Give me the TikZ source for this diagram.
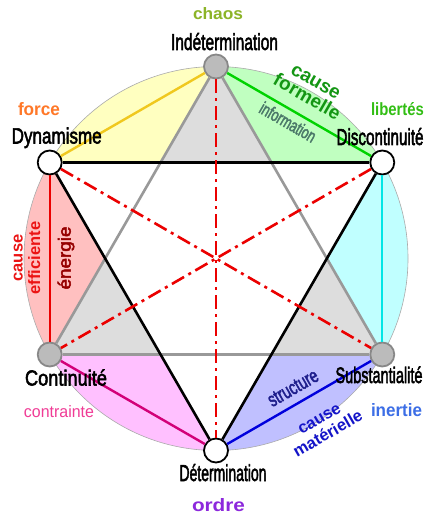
\documentclass[tikz,border=0pt]{standalone}
\usepackage{fontspec}
\setmainfont{Liberation Sans}
\newfontfamily\heavy[FakeBold=2.6]{Liberation Sans}
\usepackage{graphicx}
\definecolor{fyel}{RGB}{255,255,192}
\definecolor{lyel}{RGB}{240,200,30}
\definecolor{fgre}{RGB}{192,255,192}
\definecolor{lgre}{RGB}{0,210,0}
\definecolor{fcya}{RGB}{192,255,255}
\definecolor{lcya}{RGB}{0,230,230}
\definecolor{fblu}{RGB}{192,192,255}
\definecolor{lblu}{RGB}{0,0,220}
\definecolor{fmag}{RGB}{255,192,255}
\definecolor{lmag}{RGB}{210,0,120}
\definecolor{fred}{RGB}{255,192,192}
\definecolor{lred}{RGB}{235,0,0}
\definecolor{fgray}{RGB}{221,221,221}
\definecolor{tgray}{RGB}{153,153,153}
\definecolor{ngray}{RGB}{187,187,187}
\definecolor{ndgray}{RGB}{136,136,136}
\definecolor{ccirc}{RGB}{170,170,170}
\definecolor{cchaos}{RGB}{140,180,40}
\definecolor{cforce}{RGB}{255,120,40}
\definecolor{clib}{RGB}{50,190,20}
\definecolor{cform}{RGB}{20,150,20}
\definecolor{cinfo}{RGB}{75,120,105}
\definecolor{ceff}{RGB}{235,20,20}
\definecolor{cener}{RGB}{150,0,0}
\definecolor{ccont}{RGB}{240,60,150}
\definecolor{cstru}{RGB}{30,30,140}
\definecolor{cmat}{RGB}{20,20,200}
\definecolor{ciner}{RGB}{60,110,230}
\definecolor{cordre}{RGB}{140,40,220}
\newcommand\rsz[3]{\resizebox{#1pt}{#2pt}{#3}}
\begin{document}
\begin{tikzpicture}[x=1pt,y=1pt,
  vwhite/.style={circle,draw=black,fill=white,line width=1.8pt,minimum size=24pt,inner sep=0pt},
  vgray/.style={circle,draw=ndgray,fill=ngray,line width=1.8pt,minimum size=24pt,inner sep=0pt},
  chord/.style={line width=2.4pt},
  blacktri/.style={line width=2.6pt,draw=black},
  graytri/.style={line width=2.6pt,draw=tgray},
  dashdot/.style={line width=2.6pt,draw=lred,dash pattern=on 14pt off 5pt on 3pt off 5pt},
  lab/.style={anchor=base,inner sep=0pt,font=\heavy},
  rlab/.style={inner sep=0pt,align=center,font=\bfseries\fontsize{16.5}{17.5}\selectfont}]
\useasboundingbox (0,0) rectangle (432,-521);
\fill[white] (0,0) rectangle (432,-521);
\begin{scope}[shift={(216,-258.5)}]
  \def\R{192}\def\r{110.85}
  % coloured segments
  \fill[fyel] (90:\R) arc[start angle=90,end angle=150,radius=\R] -- (120:\r) -- cycle;
  \fill[fgre] (30:\R) arc[start angle=30,end angle=90,radius=\R] -- (60:\r) -- cycle;
  \fill[fcya] (-30:\R) arc[start angle=-30,end angle=30,radius=\R] -- (0:\r) -- cycle;
  \fill[fblu] (270:\R) arc[start angle=270,end angle=330,radius=\R] -- (300:\r) -- cycle;
  \fill[fmag] (210:\R) arc[start angle=210,end angle=270,radius=\R] -- (240:\r) -- cycle;
  \fill[fred] (150:\R) arc[start angle=150,end angle=210,radius=\R] -- (180:\r) -- cycle;
  % grey tips
  \fill[fgray] (90:\R) -- (60:\r) -- (120:\r) -- cycle;
  \fill[fgray] (210:\R) -- (180:\r) -- (240:\r) -- cycle;
  \fill[fgray] (330:\R) -- (300:\r) -- (0:\r) -- cycle;
  \draw[ccirc,line width=0.6pt] (0,0) circle[radius=\R];
  % vertices
  \node[vgray]  (ind) at (90:\R) {};
  \node[vwhite] (dyn) at (150:\R) {};
  \node[vgray]  (con) at (210:\R) {};
  \node[vwhite] (det) at (270:\R) {};
  \node[vgray]  (sub) at (330:\R) {};
  \node[vwhite] (dis) at (30:\R) {};
\end{scope}
% chords
\draw[chord,lyel] (dyn) -- (ind);
\draw[chord,lgre] (ind) -- (dis);
\draw[chord,lcya] (dis) -- (sub);
\draw[chord,lblu] (sub) -- (det);
\draw[chord,lmag] (det) -- (con);
\draw[chord,lred] (con) -- (dyn);
% triangles
\draw[graytri] (ind) -- (con);
\draw[graytri] (con) -- (sub);
\draw[graytri] (sub) -- (ind);
\draw[blacktri] (dyn) -- (dis);
\draw[blacktri] (dis) -- (det);
\draw[blacktri] (det) -- (dyn);
% diameters
\draw[dashdot] (ind) -- (det);
\draw[dashdot] (dyn) -- (sub);
\draw[dashdot] (dis) -- (con);
% vertex labels
\node[lab] (tind) at (224.5,-50) {\rsz{107}{17}{Indétermination}};
\node[lab] (tdyn) at (56.7,-143.5) {\rsz{90}{16}{Dynamisme}};
\node[lab] (tdis) at (380,-145) {\rsz{87}{17}{Discontinuité}};
\node[lab] (tcon) at (66,-385.5) {\rsz{82}{16}{Continuité}};
\node[lab] (tsub) at (379,-383) {\rsz{87}{16.5}{Substantialité}};
\node[lab] (tdet) at (223,-481) {\rsz{87}{17}{Détermination}};
% coloured labels
\node[anchor=base,inner sep=0pt,text=cchaos] (tchaos) at (218,-20) {\rsz{50}{12}{\bfseries chaos}};
\node[anchor=base,inner sep=0pt,text=cforce] (tforce) at (39,-116) {\rsz{42}{13}{\bfseries force}};
\node[anchor=base,inner sep=0pt,text=clib] (tlib) at (397.5,-116) {\rsz{53}{13}{\bfseries libertés}};
\node[anchor=base,inner sep=0pt,text=ciner] (tiner) at (396.5,-416) {\rsz{51}{13}{\bfseries inertie}};
\node[anchor=base,inner sep=0pt,text=ccont] (tcont) at (59,-417) {\rsz{70}{12}{contrainte}};
\node[anchor=base,inner sep=0pt,text=cordre] (tordre) at (218.5,-511) {\rsz{53}{13}{\bfseries ordre}};
% rotated labels
\node[rlab,font=\bfseries\fontsize{19}{18}\selectfont,text=cform,rotate=-30] (tform) at (311,-90) {cause\\formelle};
\node[inner sep=0pt,font=\heavy,text=cinfo,rotate=-30] (tinfo) at (288,-122) {\rsz{62}{13}{information}};
\node[rlab,text=ceff,rotate=90] (teff) at (27,-258) {cause\\efficiente};
\node[inner sep=0pt,font=\heavy,text=cener,rotate=90] (tener) at (66,-258) {\rsz{63}{13}{énergie}};
\node[inner sep=0pt,font=\heavy,text=cstru,rotate=30] (tstru) at (293,-388) {\rsz{55}{13}{structure}};
\node[rlab,text=cmat,rotate=30] (tmat) at (324,-427) {cause\\matérielle};
\end{tikzpicture}
\end{document}
